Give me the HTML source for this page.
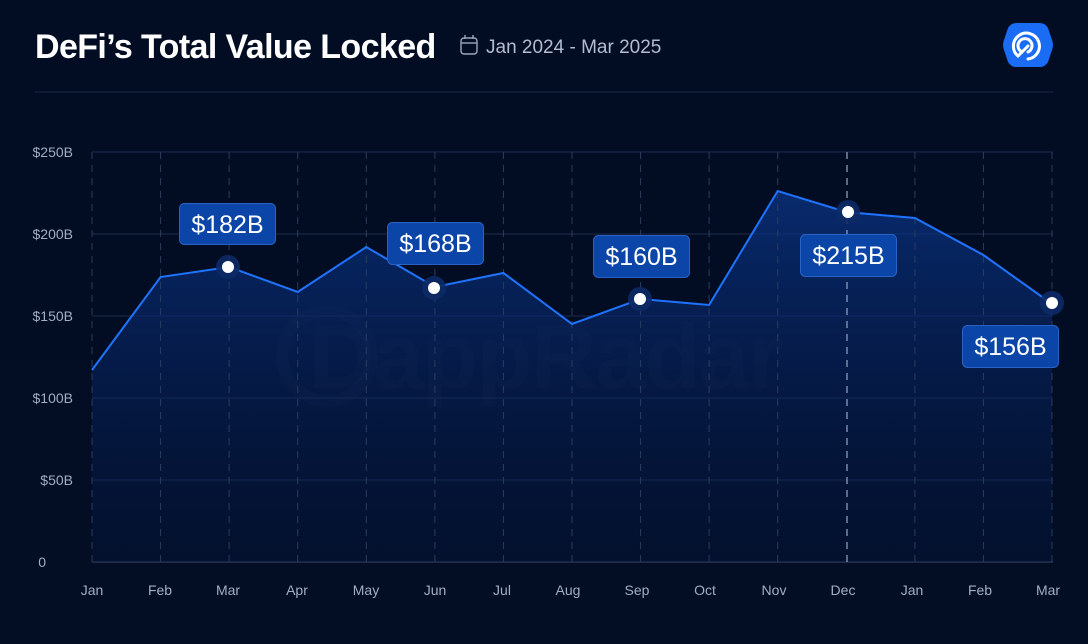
<!DOCTYPE html>
<html><head><meta charset="utf-8"><style>
html,body{margin:0;padding:0;background:#020c22;}
svg{display:block;font-family:"Liberation Sans",sans-serif;}
</style></head><body>
<svg width="1088" height="644" viewBox="0 0 1088 644">
<defs>
<linearGradient id="fill" x1="0" y1="0" x2="0" y2="1">
<stop offset="0" stop-color="#0a3486" stop-opacity="0.75"/>
<stop offset="1" stop-color="#041a4a" stop-opacity="0.25"/>
</linearGradient>
<linearGradient id="bg" x1="0" y1="0" x2="0" y2="1">
<stop offset="0" stop-color="#020c22"/><stop offset="1" stop-color="#030d24"/>
</linearGradient>
</defs>
<rect width="1088" height="644" fill="url(#bg)"/>
<text x="35" y="58" font-size="34" font-weight="bold" fill="#fff" letter-spacing="-0.6">DeFi’s Total Value Locked</text>
<g stroke="#9aa6bd" stroke-width="1.4" fill="none"><rect x="461" y="38" width="16" height="16" rx="3"/><line x1="461" y1="43" x2="477" y2="43"/><line x1="465" y1="35" x2="465" y2="39"/><line x1="473" y1="35" x2="473" y2="39"/></g>
<text x="486" y="53" font-size="19" fill="#b4bdd0">Jan 2024 - Mar 2025</text>
<path d="M1016 23 L1040 23 Q1045 23 1048 28 L1052 40 Q1054 45 1052 50 L1048 62 Q1045 67 1040 67 L1016 67 Q1011 67 1008 62 L1004 50 Q1002 45 1004 40 L1008 28 Q1011 23 1016 23Z" fill="#1a6cf5"/>
<g stroke="#fff" stroke-width="3" fill="none" stroke-linecap="round"><path d="M1018 56 A13 13 0 1 1 1028 59"/><path d="M1022 52 A7 7 0 1 1 1028 52"/><line x1="1028" y1="46" x2="1018" y2="56"/></g>
<line x1="35" y1="92" x2="1053" y2="92" stroke="#1a2a48" stroke-width="1"/>
<text x="545" y="388" font-size="92" font-weight="bold" fill="#ffffff" fill-opacity="0.025" text-anchor="middle" letter-spacing="-2">DappRadar</text>
<circle cx="327" cy="356" r="45" fill="none" stroke="#fff" stroke-opacity="0.025" stroke-width="12"/>
<g stroke="#1e2d4c" stroke-width="1">
<line x1="92" y1="152" x2="1053" y2="152"/><line x1="92" y1="234" x2="1053" y2="234"/><line x1="92" y1="316" x2="1053" y2="316"/><line x1="92" y1="398" x2="1053" y2="398"/><line x1="92" y1="480" x2="1053" y2="480"/>
</g>
<line x1="92" y1="562" x2="1053" y2="562" stroke="#3a4a6a" stroke-width="1"/>
<path d="M92,370 L160.6,277 L229.1,267 L297.7,292 L366.3,247 L434.9,287 L503.4,273 L572,324 L640.6,299 L709.1,305 L777.7,191 L846.3,212 L914.9,218 L983.4,255 L1052,304 L1052,562 L92,562Z" fill="url(#fill)"/>
<g stroke="#2a3c5e" stroke-width="1" stroke-dasharray="7,6">
<line x1="92" y1="152" x2="92" y2="562"/><line x1="160.6" y1="152" x2="160.6" y2="562"/><line x1="229.1" y1="152" x2="229.1" y2="562"/><line x1="297.7" y1="152" x2="297.7" y2="562"/><line x1="366.3" y1="152" x2="366.3" y2="562"/><line x1="434.9" y1="152" x2="434.9" y2="562"/><line x1="503.4" y1="152" x2="503.4" y2="562"/><line x1="572" y1="152" x2="572" y2="562"/><line x1="640.6" y1="152" x2="640.6" y2="562"/><line x1="709.1" y1="152" x2="709.1" y2="562"/><line x1="777.7" y1="152" x2="777.7" y2="562"/><line x1="914.9" y1="152" x2="914.9" y2="562"/><line x1="983.4" y1="152" x2="983.4" y2="562"/><line x1="1052" y1="152" x2="1052" y2="562"/>
</g>
<line x1="847" y1="152" x2="847" y2="562" stroke="#8a9bbd" stroke-width="1.3" stroke-dasharray="7,6"/>
<polyline points="92,370 160.6,277 229.1,267 297.7,292 366.3,247 434.9,287 503.4,273 572,324 640.6,299 709.1,305 777.7,191 846.3,212 914.9,218 983.4,255 1052,304" fill="none" stroke="#1f74ff" stroke-width="2"/>
<g font-size="14" fill="#a3adc2" text-anchor="end">
<text x="73" y="157">$250B</text><text x="73" y="239">$200B</text><text x="73" y="321">$150B</text><text x="73" y="403">$100B</text><text x="73" y="485">$50B</text><text x="46" y="567">0</text>
</g>
<g font-size="14" fill="#a3adc2" text-anchor="middle">
<text x="92" y="595">Jan</text><text x="160" y="595">Feb</text><text x="228" y="595">Mar</text><text x="297" y="595">Apr</text><text x="366" y="595">May</text><text x="435" y="595">Jun</text><text x="502" y="595">Jul</text><text x="568" y="595">Aug</text><text x="637" y="595">Sep</text><text x="705" y="595">Oct</text><text x="774" y="595">Nov</text><text x="843" y="595">Dec</text><text x="912" y="595">Jan</text><text x="980" y="595">Feb</text><text x="1048" y="595">Mar</text>
</g>
<g fill="#0d2a66" fill-opacity="0.9">
<circle cx="228" cy="267" r="12"/><circle cx="434" cy="288" r="12"/><circle cx="640" cy="299" r="12"/><circle cx="848" cy="212" r="12"/><circle cx="1052" cy="303" r="12"/>
</g>
<g fill="#fff">
<circle cx="228" cy="267" r="6"/><circle cx="434" cy="288" r="6"/><circle cx="640" cy="299" r="6"/><circle cx="848" cy="212" r="6"/><circle cx="1052" cy="303" r="6"/>
</g>
<g fill="#0b45a8" stroke="#2a62c4" stroke-width="1">
<rect x="179.5" y="203.5" width="96" height="41" rx="5"/><rect x="387.5" y="222.5" width="96" height="42" rx="5"/><rect x="593.5" y="235.5" width="96" height="42" rx="5"/><rect x="800.5" y="234.5" width="96" height="42" rx="5"/><rect x="962.5" y="325.5" width="96" height="42" rx="5"/>
</g>
<g font-size="25" fill="#fff" text-anchor="middle">
<text x="227.5" y="233">$182B</text><text x="435.5" y="252">$168B</text><text x="641.5" y="265">$160B</text><text x="848.5" y="264">$215B</text><text x="1010.5" y="355">$156B</text>
</g>
</svg>
</body></html>
